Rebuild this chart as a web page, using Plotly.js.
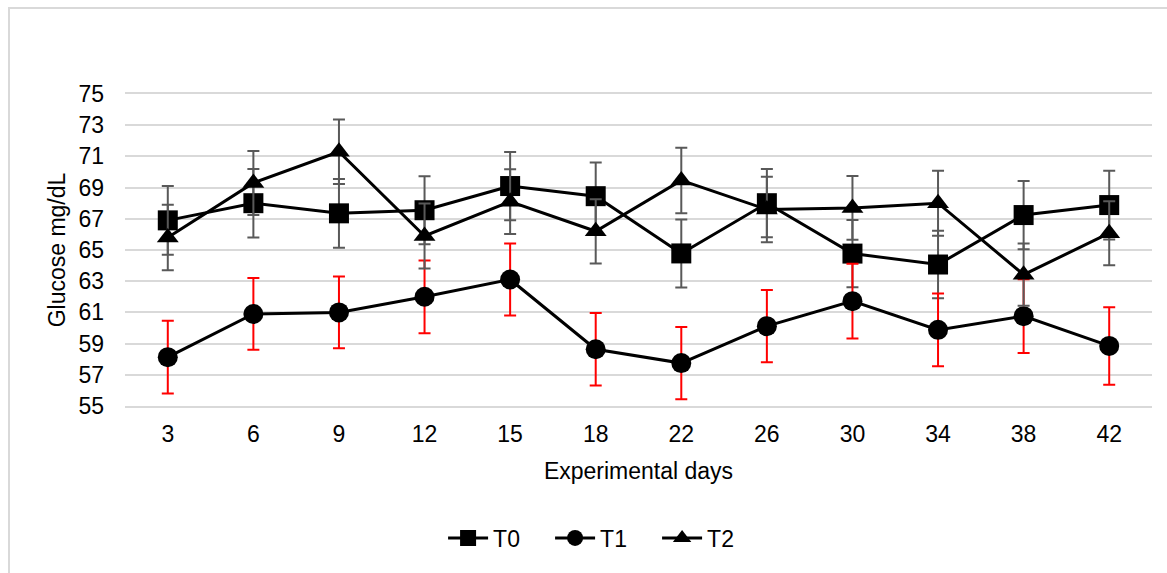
<!DOCTYPE html>
<html>
<head>
<meta charset="utf-8">
<script src="https://cdn.plot.ly/plotly-3.0.1.min.js"></script>
<style>
  html, body { margin: 0; padding: 0; background: #fff; }
  #wrap { position: relative; width: 1167px; height: 573px; overflow: hidden; }
  #chart { width: 1167px; height: 573px; }
  #frame { position: absolute; left: 8px; top: 7px; width: 1300px; height: 700px;
           border-top: 2px solid #d9d9d9; border-left: 2px solid #d9d9d9; pointer-events: none; }
</style>
</head>
<body>
<div id="wrap">
  <div id="chart"></div>
  <div id="frame"></div>
</div>
<script>
const days = ['3', '6', '9', '12', '15', '18', '22', '26', '30', '34', '38', '42'];

const t0 = [66.9, 68.0, 67.35, 67.55, 69.1, 68.45, 64.78, 68.0, 64.77, 64.07, 67.24, 67.88];
const t0Err = [2.2, 2.2, 2.2, 2.18, 2.19, 2.16, 2.18, 2.19, 2.15, 2.17, 2.19, 2.2];

const t1 = [58.13, 60.9, 61.0, 62.0, 63.11, 58.64, 57.75, 60.12, 61.72, 59.88, 60.76, 58.85];
const t1Err = [2.33, 2.3, 2.3, 2.33, 2.31, 2.32, 2.32, 2.31, 2.4, 2.33, 2.36, 2.48];

const t2 = [65.8, 69.3, 71.3, 65.9, 68.1, 66.2, 69.46, 67.6, 67.7, 68.0, 63.42, 66.08];
const t2Err = [2.1, 2.05, 2.07, 2.08, 2.07, 2.06, 2.1, 2.1, 2.04, 2.08, 2.0, 2.05];

const yTicks = [55, 57, 59, 61, 63, 65, 67, 69, 71, 73, 75];

const FONT = 'Liberation Sans, Arial, sans-serif';

function series(name, y, err, symbol, size, errColor) {
  return {
    type: 'scatter', mode: 'lines+markers', name: name,
    x: days, y: y,
    line: { color: '#000000', width: 3 },
    marker: { symbol: symbol, size: size, color: '#000000' },
    error_y: { type: 'data', array: err, visible: true, color: errColor, thickness: 2, width: 6 }
  };
}

const data = [
  series('T0', t0, t0Err, 'square', 20, '#595959'),
  series('T1', t1, t1Err, 'circle', 20, '#ff0000'),
  series('T2', t2, t2Err, 'triangle-up', 19, '#595959')
];

const layout = {
  width: 1167, height: 573,
  margin: { l: 125, r: 15, t: 94, b: 167 },
  paper_bgcolor: '#ffffff', plot_bgcolor: '#ffffff',
  font: { family: FONT, size: 23, color: '#000000' },
  showlegend: true,
  legend: {
    orientation: 'h', x: 0.466, xanchor: 'center', y: -0.423, yanchor: 'middle',
    font: { family: FONT, size: 23, color: '#000000' },
    itemwidth: 40, entrywidth: 52, entrywidthmode: 'pixels', tracegroupgap: 0
  },
  xaxis: {
    type: 'category', range: [-0.5, 11.5],
    showgrid: false, zeroline: false,
    showline: true, mirror: true, linecolor: '#d9d9d9', linewidth: 2,
    ticks: '', ticklabelstandoff: 6,
    tickfont: { family: FONT, size: 23, color: '#000000' },
    title: { text: 'Experimental days', font: { family: FONT, size: 23, color: '#000000' }, standoff: 17 }
  },
  yaxis: {
    range: [55, 75], tickvals: yTicks, ticktext: yTicks.map(String),
    showgrid: true, gridcolor: '#d9d9d9', gridwidth: 2,
    zeroline: false, showline: false, ticks: '', ticklabelstandoff: 20,
    tickfont: { family: FONT, size: 23, color: '#000000' },
    title: { text: 'Glucose mg/dL', font: { family: FONT, size: 23, color: '#000000' }, standoff: 6 }
  }
};

Plotly.newPlot('chart', data, layout, { displayModeBar: false, staticPlot: true });
</script>
</body>
</html>
